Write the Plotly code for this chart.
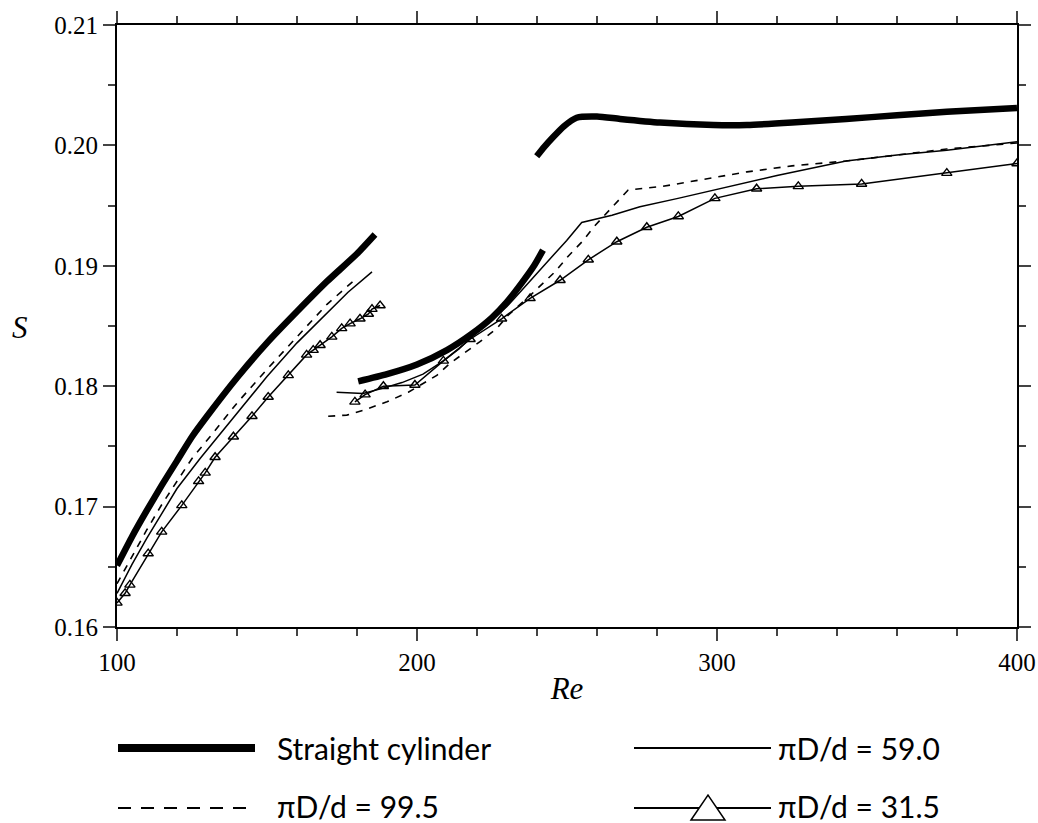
import plotly.graph_objects as go

# --- dados (Re, S) ---
# cilindro reto: tres trechos separados por None
re_reto = [100, 105, 110, 115, 120, 125, 130, 140, 150, 160, 170, 180, 186, None,
           180.4, 190, 200, 210, 218, 225, 230, 235, 239, 242, None,
           239.9, 242.5, 245.4, 249, 253.2, 260, 267.7, 281, 298.8, 310, 325, 343, 360, 376.6, 400]
s_reto = [0.1651, 0.1675, 0.1697, 0.1718, 0.1738, 0.1758, 0.1775, 0.1807, 0.1836, 0.1862, 0.1887, 0.1910, 0.1926, None,
          0.1804, 0.1810, 0.1818, 0.1830, 0.1843, 0.1857, 0.1870, 0.1886, 0.1900, 0.1913, None,
          0.1991, 0.1999, 0.2007, 0.2016, 0.2023, 0.2024, 0.2022, 0.2019, 0.2017, 0.2017, 0.2019, 0.2022, 0.2025, 0.2028, 0.2031]

# piD/d = 99.5 (tracejado)
re_995 = [100, 105, 110, 115, 120, 125, 131, 140, 150, 160, 170, 180, None,
          170.4, 176.6, 182.1, 190, 197.1, 206.6, 211, 221, 226.6, 230.4, 238, 246, 250.4, 255.4,
          258.8, 264, 267.7, 270.4, 282, 296, 310, 325, 343, 360, 376.6, 400]
s_995 = [0.1636, 0.1659, 0.1681, 0.1702, 0.1721, 0.1740, 0.1758, 0.1786, 0.1814, 0.1841, 0.1868, 0.1890, None,
         0.1775, 0.1776, 0.1780, 0.1787, 0.1795, 0.1809, 0.1819, 0.1837, 0.1848, 0.1859, 0.1876, 0.1895, 0.1908, 0.1921,
         0.1932, 0.1946, 0.1956, 0.1963, 0.1966, 0.1972, 0.1978, 0.1983, 0.1987, 0.1992, 0.1997, 0.2002]

# piD/d = 59.0 (linha fina)
re_590 = [100, 105, 110, 115, 120, 127.7, 133, 140, 150, 160, 170, 177, 185, None,
          173.2, 182, 188.2, 195, 202, 208.8, 214, 220, 225, 229.9, 235, 241, 245.5, 249.9, 254.9,
          265, 274.3, 287, 298.8, 320, 343, 360, 376.6, 400]
s_590 = [0.1628, 0.1652, 0.1674, 0.1695, 0.1715, 0.1740, 0.1756, 0.1778, 0.1808, 0.1836, 0.1861, 0.1878, 0.1895, None,
         0.1795, 0.1794, 0.1798, 0.1803, 0.1810, 0.1821, 0.1831, 0.1845, 0.1855, 0.1866, 0.1880, 0.1897, 0.1909, 0.1921, 0.1936,
         0.1942, 0.1949, 0.1956, 0.1963, 0.1975, 0.1987, 0.1992, 0.1996, 0.2003]

# piD/d = 31.5 (linha com triangulos)
re_315 = [100, 102.7, 104.3, 110.4, 114.9, 121.6, 127.2, 129.4, 132.7, 138.8, 145, 150.4, 157.1,
          163.2, 165.4, 167.7, 171.6, 174.9, 177.7, 181, 183.8, 185, 187.7, None,
          179.3, 182.7, 188.8, 199.3, 208.8, 217.7, 228.2, 237.7, 247.7, 257.1, 266.6, 276.6,
          287.1, 299.3, 313.2, 327.1, 348.2, 376.6, 400]
s_315 = [0.1620, 0.1628, 0.1635, 0.1661, 0.1679, 0.1701, 0.1721, 0.1728, 0.1741, 0.1758, 0.1775, 0.1791, 0.1809,
         0.1826, 0.1830, 0.1834, 0.1841, 0.1848, 0.1852, 0.1856, 0.1860, 0.1864, 0.1867, None,
         0.1787, 0.1793, 0.1800, 0.1801, 0.1821, 0.1839, 0.1856, 0.1873, 0.1888, 0.1905, 0.1920, 0.1932,
         0.1941, 0.1956, 0.1964, 0.1966, 0.1968, 0.1977, 0.1985]

x_ticks = [100, 200, 300, 400]
y_ticks = [0.16, 0.17, 0.18, 0.19, 0.20, 0.21]
y_ticktext = ["0.16", "0.17", "0.18", "0.19", "0.20", "0.21"]

legenda = ["Straight cylinder", "πD/d = 59.0", "πD/d = 99.5", "πD/d = 31.5"]

fig = go.Figure()

fig.add_trace(go.Scatter(x=re_995, y=s_995, mode="lines",
                         line=dict(color="black", width=1.6, dash="7px,7px")))
fig.add_trace(go.Scatter(x=re_590, y=s_590, mode="lines",
                         line=dict(color="black", width=1.5)))
fig.add_trace(go.Scatter(x=re_315, y=s_315, mode="lines+markers",
                         line=dict(color="black", width=1.5),
                         marker=dict(symbol="triangle-up-open", size=9, color="black",
                                     line=dict(width=1.4))))
fig.add_trace(go.Scatter(x=re_reto, y=s_reto, mode="lines", line_shape="spline",
                         line=dict(color="black", width=6.5, smoothing=0.6)))

serif = "Liberation Serif, Times New Roman, serif"
sans = "Lato, Noto Sans, sans-serif"

fig.update_layout(
    width=1038, height=823,
    margin=dict(l=117, r=21, t=25, b=196, autoexpand=False),
    paper_bgcolor="white", plot_bgcolor="white",
    showlegend=False,
    font=dict(family=serif, color="black"),
)

fig.update_xaxes(
    range=[100, 400], tickvals=x_ticks, ticks="outside", ticklen=12, tickwidth=2,
    showline=True, linewidth=2, linecolor="black", mirror="allticks",
    showgrid=False, zeroline=False, tickfont=dict(family=serif, size=25),
    minor=dict(dtick=20, ticks="outside", ticklen=7, tickwidth=2, showgrid=False),
    title=dict(text="<i>Re</i>", font=dict(family=serif, size=31), standoff=2),
)
fig.update_yaxes(
    range=[0.16, 0.21], tickvals=y_ticks, ticktext=y_ticktext, ticks="outside",
    ticklen=12, tickwidth=2,
    showline=True, linewidth=2, linecolor="black", mirror="allticks",
    showgrid=False, zeroline=False, tickfont=dict(family=serif, size=25),
    minor=dict(dtick=0.005, ticks="outside", ticklen=7, tickwidth=2, showgrid=False),
)


# coordenadas da pagina (px) -> paper
def px_x(p):
    return (p - 117) / 900


def px_y(p):
    return (627 - p) / 602


# rotulo do eixo y sem rotacao
fig.add_annotation(text="<i>S</i>", xref="paper", yref="paper", x=px_x(20), y=px_y(327),
                   xanchor="center", showarrow=False, font=dict(family=serif, size=31))

# --- legenda desenhada a mao (2 x 2) ---
y1, y2 = px_y(748), px_y(808)
fig.add_shape(type="line", xref="paper", yref="paper", x0=px_x(118), x1=px_x(255), y0=y1, y1=y1,
              line=dict(color="black", width=8))
fig.add_shape(type="line", xref="paper", yref="paper", x0=px_x(634), x1=px_x(771), y0=y1, y1=y1,
              line=dict(color="black", width=2))
fig.add_shape(type="line", xref="paper", yref="paper", x0=px_x(118), x1=px_x(252), y0=y2, y1=y2,
              line=dict(color="black", width=2, dash="13px,10px"))
fig.add_shape(type="line", xref="paper", yref="paper", x0=px_x(634), x1=px_x(771), y0=y2, y1=y2,
              line=dict(color="black", width=2))
tx, ta, tb = px_x(708), px_y(795), px_y(820)
dx = 17 / 900
fig.add_shape(type="path", xref="paper", yref="paper",
              path=f"M {tx - dx},{tb} L {tx},{ta} L {tx + dx},{tb} Z",
              fillcolor="white", line=dict(color="black", width=1.5))

pos = [(275, 748), (776, 748), (275, 806), (776, 806)]
for txt, (px, py) in zip(legenda, pos):
    fig.add_annotation(text=txt, xref="paper", yref="paper", x=px_x(px), y=px_y(py),
                       xanchor="left", yanchor="middle", showarrow=False,
                       font=dict(family=sans, size=30, color="black"))

# tira a margem padrao do body para a figura ocupar a janela inteira
fig.write_html("out.html", config={"displayModeBar": False},
               post_script="document.body.style.margin='0';")
